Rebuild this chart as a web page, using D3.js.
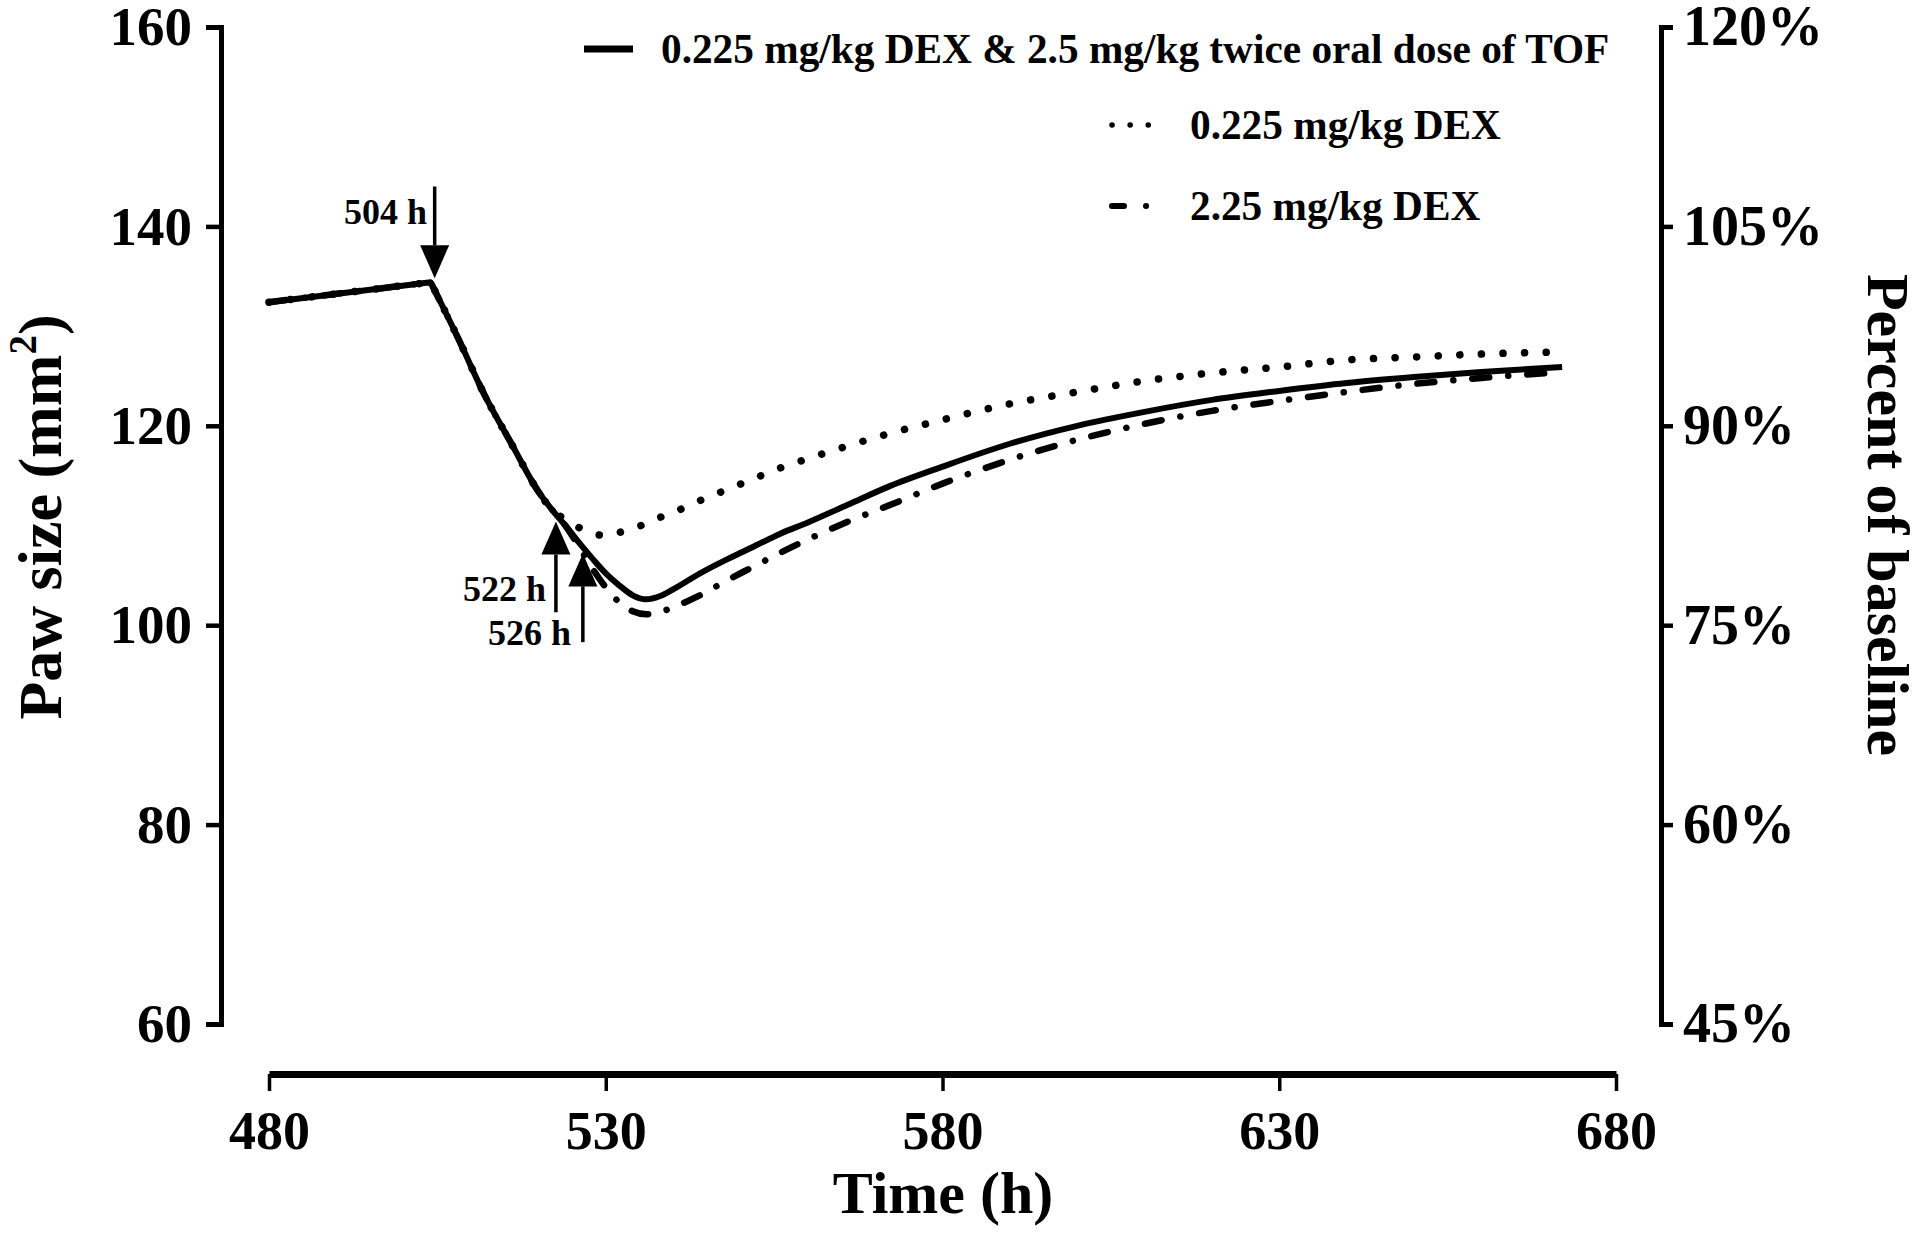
<!DOCTYPE html>
<html>
<head>
<meta charset="utf-8">
<script src="https://cdn.jsdelivr.net/npm/d3@7"></script>
<style>
  html, body { margin: 0; padding: 0; background: #fff; }
  svg { display: block; font-family: "Liberation Serif", "Times New Roman", serif; font-weight: bold; }
</style>
</head>
<body>
<svg id="chart" width="1920" height="1235"></svg>
<script>
// ---------------- data ----------------
const times = [480, 504, 508, 512, 516, 520, 522, 524, 526, 528, 530, 532, 534, 536, 538, 540, 544, 548, 552, 556, 560, 566, 572, 580, 590, 600, 610, 620, 630, 640, 650, 660, 672];
const comboValues = [132.4, 134.4, 128.9, 123.1, 118.2, 113.4, 111.6, 110.0, 108.3, 106.7, 105.2, 104.0, 103.0, 102.6, 102.9, 103.6, 105.2, 106.6, 107.9, 109.2, 110.3, 112.1, 113.9, 115.9, 118.2, 120.0, 121.4, 122.6, 123.5, 124.3, 124.9, 125.4, 125.9];
const lowDexValues = [132.4, 134.4, 128.9, 123.1, 118.2, 113.4, 111.6, 110.6, 109.8, 109.2, 109.0, 109.3, 109.7, 110.2, 110.8, 111.3, 112.5, 113.6, 114.7, 115.8, 116.7, 118.0, 119.2, 120.6, 122.2, 123.4, 124.5, 125.3, 125.9, 126.6, 126.9, 127.2, 127.4];
const highDexValues = [132.4, 134.4, 128.9, 123.1, 118.2, 113.4, 111.6, 110.0, 107.9, 105.7, 103.8, 102.3, 101.4, 101.1, 101.3, 101.8, 103.0, 104.5, 105.9, 107.3, 108.6, 110.4, 112.0, 114.2, 116.6, 118.6, 120.2, 121.5, 122.5, 123.4, 124.2, 124.8, 125.4];
const seriesNames = ["0.225 mg/kg DEX & 2.5 mg/kg twice oral dose of TOF", "0.225 mg/kg DEX", "2.25 mg/kg DEX"];
const xTicks = [480, 530, 580, 630, 680];
const yTicks = [60, 80, 100, 120, 140, 160];
const pctTicks = [0.45, 0.60, 0.75, 0.90, 1.05, 1.20];
const doseTimes = [504, 522, 526];
const doseLabels = ["504 h", "522 h", "526 h"];
const doseTip = [134.8, 110.4, 107.2];
const doseTail = [144.0, 101.3, 98.3];
const xTitle = "Time (h)";
const yTitle = "Paw size (mm";
const y2Title = "Percent of baseline";

// ---------------- layout ----------------
const svg = d3.select("#chart");
const x = d3.scaleLinear().domain([480, 680]).range([269, 1616]);
const y = d3.scaleLinear().domain([60, 160]).range([1024, 27]);
const yPct = d3.scaleLinear().domain([0.45, 1.20]).range([1024, 27]);
const leftX = 221, rightX = 1661, bottomY = 1074;

// axes
const gx = svg.append("g").attr("transform", `translate(0,${bottomY})`)
  .call(d3.axisBottom(x).tickValues(xTicks).tickFormat(d3.format("d")).tickSize(17).tickSizeOuter(0).tickPadding(20));
gx.select(".domain").attr("stroke-width", 7).attr("stroke", "#000");
gx.selectAll(".tick line").attr("stroke-width", 3.5).attr("stroke", "#000");
gx.selectAll(".tick text").attr("font-size", 54).attr("font-family", "Liberation Serif").attr("font-weight", "bold").attr("fill", "#000");

const gy = svg.append("g").attr("transform", `translate(${leftX},0)`)
  .call(d3.axisLeft(y).tickValues(yTicks).tickSize(15).tickSizeOuter(15).tickPadding(14));
gy.select(".domain").attr("stroke-width", 5).attr("stroke", "#000");
gy.selectAll(".tick line").attr("stroke-width", 4.5).attr("stroke", "#000");
gy.selectAll(".tick text").attr("font-size", 55).attr("font-family", "Liberation Serif").attr("font-weight", "bold").attr("fill", "#000");

const gy2 = svg.append("g").attr("transform", `translate(${rightX},0)`)
  .call(d3.axisRight(yPct).tickValues(pctTicks).tickFormat(d3.format(".0%")).tickSize(12).tickSizeOuter(12).tickPadding(10));
gy2.select(".domain").attr("stroke-width", 5).attr("stroke", "#000");
gy2.selectAll(".tick line").attr("stroke-width", 4.5).attr("stroke", "#000");
gy2.selectAll(".tick text").attr("font-size", 56).attr("font-family", "Liberation Serif").attr("font-weight", "bold").attr("fill", "#000");
svg.selectAll(".domain").attr("fill", "none");

// axis titles
svg.append("text").attr("x", 943).attr("y", 1213).attr("text-anchor", "middle")
  .attr("font-size", 60).text(xTitle);
const yt = svg.append("text").attr("transform", "translate(61,517) rotate(-90)").attr("text-anchor", "middle").attr("font-size", 62);
yt.append("tspan").text(yTitle);
yt.append("tspan").attr("font-size", 39).attr("dy", -25).text("2");
yt.append("tspan").attr("dy", 25).text(")");
svg.append("text").attr("transform", "translate(1868,515) rotate(90)").attr("text-anchor", "middle")
  .attr("font-size", 60).text(y2Title);

// ---------------- lines ----------------
function makePath(vals) {
  const pts = times.map((t, i) => [t, vals[i]]);
  const lin = d3.line().x(d => x(d[0])).y(d => y(d[1])).curve(d3.curveLinear);
  const mono = d3.line().x(d => x(d[0])).y(d => y(d[1])).curve(d3.curveMonotoneX);
  const k = times.indexOf(504);
  return lin(pts.slice(0, k + 1)) + mono(pts.slice(k)).replace(/^M[^A-Za-z]*/, "");
}
const lines = [
  { vals: highDexValues, dash: "17 19 0.1 19", width: 6.5 },
  { vals: lowDexValues, dash: "0.1 21.5", width: 7.5 },
  { vals: comboValues, dash: null, width: 6 }
];
lines.forEach(l => {
  svg.append("path").attr("d", makePath(l.vals)).attr("fill", "none").attr("stroke", "#000")
    .attr("stroke-width", l.width).attr("stroke-linecap", l.dash ? "round" : "butt")
    .attr("stroke-linejoin", "round").attr("stroke-dasharray", l.dash);
});

// ---------------- dose arrows ----------------
doseTimes.forEach((t, i) => {
  const ax = x(t + 0.6);
  const tipY = y(doseTip[i]);
  const tailY = y(doseTail[i]);
  const dir = tailY < tipY ? 1 : -1; // 1 = pointing down
  const headLen = 33, headW = 14.5;
  const baseY = tipY - dir * headLen;
  svg.append("line").attr("x1", ax).attr("x2", ax).attr("y1", tailY).attr("y2", baseY)
    .attr("stroke", "#000").attr("stroke-width", 3.5);
  svg.append("path").attr("d", `M${ax},${tipY}L${ax - headW},${baseY}L${ax + headW},${baseY}Z`).attr("fill", "#000");
});
svg.append("text").attr("x", 427).attr("y", 224).attr("text-anchor", "end").attr("font-size", 36).text(doseLabels[0]);
svg.append("text").attr("x", 546).attr("y", 601).attr("text-anchor", "end").attr("font-size", 36).text(doseLabels[1]);
svg.append("text").attr("x", 571).attr("y", 645).attr("text-anchor", "end").attr("font-size", 36).text(doseLabels[2]);

// ---------------- legend ----------------
const legend = svg.append("g");
legend.append("line").attr("x1", 584).attr("x2", 633).attr("y1", 49).attr("y2", 49).attr("stroke", "#000").attr("stroke-width", 7);
legend.append("text").attr("x", 661).attr("y", 63).attr("font-size", 41.3).text(seriesNames[0]);
legend.append("line").attr("x1", 1112).attr("x2", 1150).attr("y1", 125).attr("y2", 125).attr("stroke", "#000")
  .attr("stroke-width", 5.5).attr("stroke-linecap", "round").attr("stroke-dasharray", "0.1 18");
legend.append("text").attr("x", 1190).attr("y", 139).attr("font-size", 41.3).text(seriesNames[1]);
legend.append("line").attr("x1", 1112).attr("x2", 1150).attr("y1", 206).attr("y2", 206).attr("stroke", "#000")
  .attr("stroke-width", 6).attr("stroke-linecap", "round").attr("stroke-dasharray", "12 22 0.1 40");
legend.append("text").attr("x", 1190).attr("y", 220).attr("font-size", 41.3).text(seriesNames[2]);
</script>
</body>
</html>
